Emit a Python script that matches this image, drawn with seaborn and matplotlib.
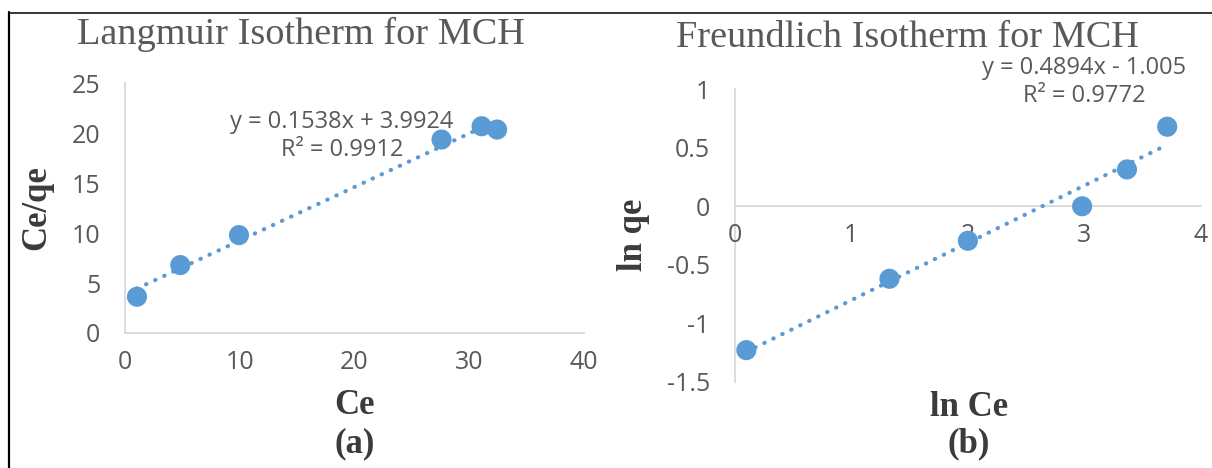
import numpy as np
import pandas as pd
import matplotlib
matplotlib.use("Agg")
import matplotlib.pyplot as plt
from matplotlib.lines import Line2D
import seaborn as sns

# Langmuir data
ce = [1.02, 4.8, 9.92, 27.6, 31.1, 32.45]
ce_qe = [3.63, 6.8, 9.8, 19.37, 20.7, 20.37]
langmuir_eq = "y = 0.1538x + 3.9924\nR² = 0.9912"

# Freundlich data
ln_ce = [0.099, 1.327, 2.0, 2.98, 3.365, 3.71]
ln_qe = [-1.23, -0.62, -0.295, 0.0, 0.315, 0.68]
freundlich_eq = "y = 0.4894x - 1.005\nR² = 0.9772"

left_xticks = [0, 10, 20, 30, 40]
left_yticks = [0, 5, 10, 15, 20, 25]
right_xticks = [0, 1, 2, 3, 4]
right_yticks = [-1.5, -1, -0.5, 0, 0.5, 1]

sns.set_theme(style="white")
plt.rcParams["font.family"] = ["Open Sans", "DejaVu Sans"]

BLUE = "#5B9BD5"
GREY_TXT = "#595959"
AXIS_GREY = "#d9d9d9"
SERIF = ["Liberation Serif", "DejaVu Serif"]

W, H = 1212, 468
fig = plt.figure(figsize=(W / 100, H / 100), dpi=100)


def fig_box(x0, y0, x1, y1):
    """Axes rectangle from pixel corners (top-left origin)."""
    return [x0 / W, 1 - y1 / H, (x1 - x0) / W, (y1 - y0) / H]


ax1 = fig.add_axes(fig_box(125.3, 83.3, 583.6, 333))
ax2 = fig.add_axes(fig_box(734.8, 89.3, 1201, 381.7))

line_kws = dict(linestyle=(0, (0.1, 2.3)), linewidth=3.0,
                dash_capstyle="round", color=BLUE)
scatter_kws = dict(s=210, color=BLUE, edgecolor="none", alpha=1, zorder=3)

df_l = pd.DataFrame({"Ce": ce, "Ce/qe": ce_qe})
df_f = pd.DataFrame({"ln Ce": ln_ce, "ln qe": ln_qe})

sns.regplot(data=df_l, x="Ce", y="Ce/qe", ax=ax1, ci=None,
            scatter_kws=scatter_kws, line_kws=line_kws)
sns.regplot(data=df_f, x="ln Ce", y="ln qe", ax=ax2, ci=None,
            scatter_kws=scatter_kws, line_kws=line_kws)

for ax, xt, yt in [(ax1, left_xticks, left_yticks),
                   (ax2, right_xticks, right_yticks)]:
    ax.set_xlim(xt[0], xt[-1])
    ax.set_ylim(yt[0], yt[-1])
    ax.set_xticks(xt)
    ax.set_yticks(yt)
    ax.set_xticklabels([f"{v:g}" for v in xt])
    ax.set_yticklabels([f"{v:g}" for v in yt])
    ax.set_xlabel("")
    ax.set_ylabel("")
    ax.set_facecolor("none")
    for s in ["top", "right"]:
        ax.spines[s].set_visible(False)
    for s in ["left", "bottom"]:
        ax.spines[s].set_color(AXIS_GREY)
        ax.spines[s].set_linewidth(1.3)
    ax.spines["bottom"].set_position(("data", 0))
    ax.tick_params(axis="both", length=0, labelsize=18, colors=GREY_TXT)
    ax.tick_params(axis="x", pad=12)
    ax.tick_params(axis="y", pad=18)
    for sp in ax.spines.values():
        sp.set_zorder(0)

ax1.text(18.9, 19.75, langmuir_eq, ha="center", va="center",
         fontsize=17, color=GREY_TXT, linespacing=1.2)
ax2.text(3.0, 1.06, freundlich_eq, ha="center", va="center",
         fontsize=17, color=GREY_TXT, linespacing=1.2, clip_on=False)


def ftext(x, y, s, **kw):
    fig.text(x / W, 1 - y / H, s, **kw)


title_kw = dict(family=SERIF, fontsize=27.5, color=GREY_TXT, ha="center",
                va="baseline")
ftext(301, 44, "Langmuir Isotherm for MCH", **title_kw)
ftext(907, 47, "Freundlich Isotherm for MCH", **title_kw)

lab_kw = dict(family=SERIF, fontsize=25, fontweight="bold", color="#3b3b3b",
              ha="center", va="center")
ftext(37, 208, "Ce/qe", rotation=90, **lab_kw)
ftext(634, 235, "ln qe", rotation=90, **lab_kw)
ftext(355, 406, "Ce", **lab_kw)
ftext(969, 407, "ln Ce", **lab_kw)
ftext(355, 444, "(a)", **lab_kw)
ftext(969, 444, "(b)", **lab_kw)

# page frame
fig.add_artist(Line2D([8.8 / W, 1], [1 - 12.8 / H] * 2, color="black",
                      linewidth=1.1, transform=fig.transFigure))
fig.add_artist(Line2D([8.8 / W] * 2, [0, 1 - 12.2 / H], color="black",
                      linewidth=1.6, transform=fig.transFigure))

fig.savefig("out.png", dpi=100, facecolor="white")
